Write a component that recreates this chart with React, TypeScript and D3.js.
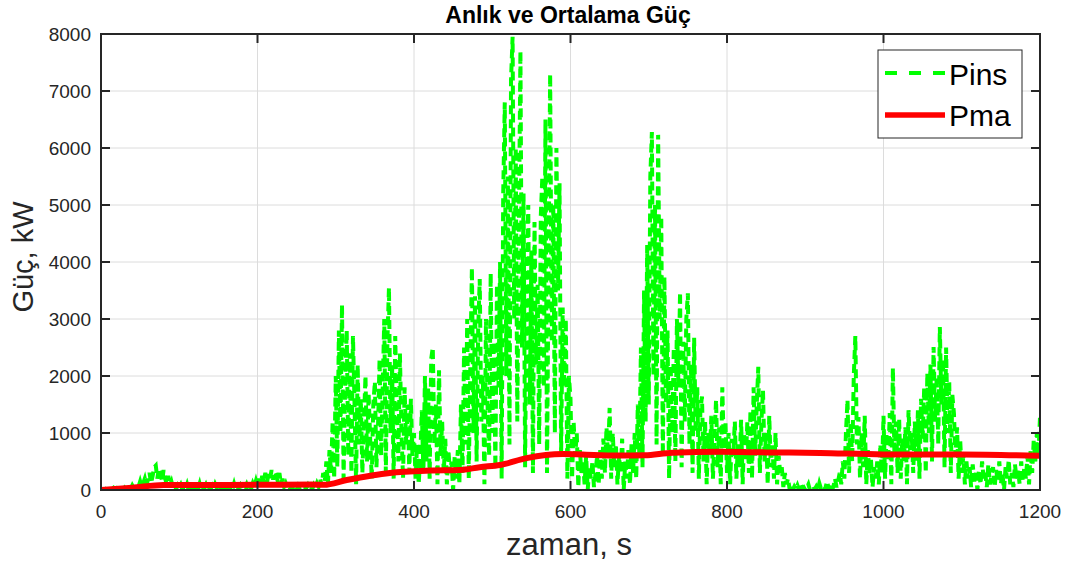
import React from "react";
import * as d3 from "d3";

// Instantaneous power samples (kW), one every 2 s, per 100 s block
const STEP = 2;
const pins000 = [0, 10, 0, 20, 5, 30, 0, 15, 40, 10, 30, 0, 20, 50, 10, 40, 0, 30, 60, 20,
  80, 30, 100, 40, 60, 150, 50, 120, 200, 80, 180, 300, 120, 250, 400, 430, 200, 380, 300, 150, 350, 200, 100, 250, 80, 150, 40, 100, 20, 80];
const pins100 = [30, 90, 10, 60, 20, 100, 0, 70, 30, 50, 10, 80, 20, 110, 0, 60, 30, 90, 10, 50,
  20, 70, 0, 100, 40, 80, 10, 60, 20, 90, 30, 50, 0, 70, 20, 110, 10, 60, 30, 80, 10, 50, 40, 100, 20, 70, 30, 120, 60, 160];
const pins200 = [60, 200, 100, 250, 150, 300, 120, 280, 200, 350, 180, 320, 250, 150, 300, 100, 200, 60, 120, 40,
  80, 20, 60, 10, 50, 0, 70, 20, 40, 10, 60, 30, 80, 0, 50, 20, 90, 40, 120, 60, 200, 80, 300, 150, 500, 100, 700, 300, 1200, 200];
const pins300 = [2000, 400, 2800, 1000, 3250, 200, 1800, 2800, 600, 2400, 300, 2700, 1500, 100, 2200, 800, 1600, 300, 1200, 2000,
  500, 1700, 900, 200, 1500, 1900, 400, 1100, 2300, 600, 1800, 3000, 300, 2600, 3550, 1000, 2200, 200, 2700, 1400,
  500, 2400, 1000, 200, 1800, 800, 1500, 300, 1600, 600];
const pins400 = [1000, 200, 800, 100, 600, 1400, 300, 2000, 500, 1800, 200, 2300, 2500, 800, 1500, 100, 2100, 600, 1200, 300,
  900, 100, 700, 300, 500, 0, 600, 200, 700, 100, 1500, 300, 2500, 800, 3000, 200, 2200, 3900, 1000, 3400,
  500, 2800, 3700, 1200, 2000, 100, 3000, 1500, 600, 3800];
const pins500 = [1000, 2600, 400, 3600, 1800, 4000, 200, 5200, 6800, 2000, 5500, 800, 7200, 7950, 3000, 6000, 1200, 4500, 7700, 2500,
  5200, 400, 3800, 5000, 1500, 4200, 300, 4700, 2200, 3600, 800, 4800, 5500, 1800, 6500, 300, 4000, 7300, 2600, 5000,
  1000, 6000, 3500, 5380, 600, 3200, 1800, 3000, 200, 2000];
const pins600 = [1600, 200, 1200, 600, 1000, 50, 700, 300, 500, 100, 600, 0, 400, 200, 500, 50, 300, 600, 100, 700,
  200, 900, 300, 1100, 600, 1440, 200, 1000, 400, 800, 100, 600, 300, 900, 0, 500, 200, 700, 100, 800,
  300, 1000, 200, 1500, 600, 2500, 400, 3500, 1200, 4300];
const pins700 = [1500, 5500, 6280, 2000, 5000, 800, 6230, 3000, 4800, 600, 3740, 1500, 2800, 200, 2200, 1000, 2500, 500, 3000, 1800,
  3470, 400, 2600, 1200, 3000, 3450, 800, 2200, 300, 2670, 1000, 1800, 200, 1400, 1640, 500, 1200, 100, 1000, 600,
  1300, 200, 900, 1580, 400, 1100, 100, 1800, 700, 1200];
const pins800 = [300, 1000, 100, 900, 600, 1200, 200, 800, 400, 1230, 100, 1000, 500, 1200, 300, 1400, 200, 1800, 600, 1500,
  2160, 300, 1200, 1750, 500, 1000, 100, 1300, 400, 800, 200, 1000, 100, 600, 300, 400, 50, 300, 100, 200,
  20, 100, 0, 60, 10, 80, 0, 120, 30, 50];
const pins900 = [0, 40, 100, 0, 30, 80, 10, 60, 0, 120, 30, 80, 0, 50, 150, 20, 100, 0, 60, 200,
  50, 150, 300, 100, 500, 200, 1000, 1580, 300, 1200, 500, 2000, 2700, 800, 1280, 200, 1000, 400, 1300, 100,
  700, 300, 530, 50, 400, 200, 500, 100, 800, 300];
const pins1000 = [1300, 200, 1000, 500, 1350, 100, 2140, 600, 1200, 300, 1250, 200, 900, 500, 1100, 100, 1400, 700, 1000, 300,
  1200, 500, 1400, 200, 1600, 900, 1800, 300, 2050, 1000, 2200, 500, 2510, 1200, 2000, 800, 2860, 1500, 2300, 400,
  2500, 1000, 1900, 300, 1670, 1350, 600, 1100, 200, 880];
const pins1100 = [300, 600, 100, 500, 200, 400, 50, 450, 150, 300, 0, 350, 100, 500, 200, 300, 50, 450, 100, 250,
  400, 50, 350, 150, 500, 100, 300, 0, 400, 200, 530, 100, 300, 50, 450, 200, 350, 100, 500, 150,
  400, 200, 600, 100, 700, 300, 880, 500, 1000, 600, 1280];

// Moving-average power (kW)
const pmaTime = [0, 40, 80, 150, 200, 270, 285, 314, 369, 420, 459, 484, 510, 544, 590, 630, 663, 695, 730, 791, 850, 919, 1000, 1100, 1200];
const pmaValue = [0, 40, 88, 88, 92, 95, 92, 175, 300, 340, 350, 400, 440, 560, 630, 615, 605, 610, 655, 670, 660, 650, 625, 625, 600];

const xTicks = [0, 200, 400, 600, 800, 1000, 1200];
const yTicks = [0, 1000, 2000, 3000, 4000, 5000, 6000, 7000, 8000];

const TITLE = "Anlık ve Ortalama Güç";
const XLABEL = "zaman, s";
const YLABEL = "Güç, kW";
const SERIES_NAMES = ["Pins", "Pma"];

const W = 1067;
const H = 565;
const L = 101, R = 1040, T = 34, B = 490;
const FONT = "'Liberation Sans', Arial, Helvetica, sans-serif";
const AX = "#262626";

export default function App() {
  const pinsValues = [
    ...pins000, ...pins100, ...pins200, ...pins300, ...pins400, ...pins500,
    ...pins600, ...pins700, ...pins800, ...pins900, ...pins1000, ...pins1100,
  ];
  const pins: [number, number][] = pinsValues.map((v, i) => [i * STEP, v]);
  const pma: [number, number][] = pmaTime.map((t, i) => [t, pmaValue[i]]);

  const x = d3.scaleLinear().domain([0, 1200]).range([L, R]);
  const y = d3.scaleLinear().domain([0, 8000]).range([B, T]);
  const line = d3.line<[number, number]>().x((d) => x(d[0])).y((d) => y(d[1]));
  const pmaLine = d3.line<[number, number]>().x((d) => x(d[0])).y((d) => y(d[1])).curve(d3.curveMonotoneX);

  const tickLen = 9;

  return (
    <svg width={W} height={H} style={{ position: "absolute", left: 0, top: 0, background: "#fff" }} fontFamily={FONT}>
      <rect x={0} y={0} width={W} height={H} fill="#fff" />
      {xTicks.map((t) => (
        <line key={"gx" + t} x1={x(t)} x2={x(t)} y1={T} y2={B} stroke="#dcdcdc" strokeWidth={1} />
      ))}
      {yTicks.map((t) => (
        <line key={"gy" + t} x1={L} x2={R} y1={y(t)} y2={y(t)} stroke="#dcdcdc" strokeWidth={1} />
      ))}
      <defs>
        <clipPath id="plotclip">
          <rect x={L} y={T - 3} width={R - L} height={B - T + 3} />
        </clipPath>
      </defs>
      <g clipPath="url(#plotclip)">
        <path d={line(pins) || ""} fill="none" stroke="#00ff00" strokeWidth={4} strokeDasharray="9,5" strokeLinejoin="miter" />
        <path d={pmaLine(pma) || ""} fill="none" stroke="#ff0000" strokeWidth={6} strokeLinejoin="round" />
      </g>
      <rect x={L} y={T} width={R - L} height={B - T} fill="none" stroke={AX} strokeWidth={2} />
      {xTicks.map((t) => (
        <g key={"tx" + t}>
          <line x1={x(t)} x2={x(t)} y1={B} y2={B - tickLen} stroke={AX} strokeWidth={2} />
          <line x1={x(t)} x2={x(t)} y1={T} y2={T + tickLen} stroke={AX} strokeWidth={2} />
          <text x={x(t)} y={518} textAnchor="middle" fontSize={19} fill={AX}>{t}</text>
        </g>
      ))}
      {yTicks.map((t) => (
        <g key={"ty" + t}>
          <line x1={L} x2={L + tickLen} y1={y(t)} y2={y(t)} stroke={AX} strokeWidth={2} />
          <line x1={R} x2={R - tickLen} y1={y(t)} y2={y(t)} stroke={AX} strokeWidth={2} />
          <text x={91} y={y(t) + 7} textAnchor="end" fontSize={19} fill={AX}>{t}</text>
        </g>
      ))}
      <text x={568} y={23} textAnchor="middle" fontSize={23} fontWeight="bold" fill="#000">{TITLE}</text>
      <text x={569} y={555} textAnchor="middle" fontSize={31} fill={AX}>{XLABEL}</text>
      <text transform={`translate(33,257) rotate(-90)`} textAnchor="middle" fontSize={29} fill={AX}>{YLABEL}</text>
      <rect x={878} y={50} width={144} height={88} fill="#fff" stroke={AX} strokeWidth={1} />
      <line x1={885} x2={945} y1={73} y2={73} stroke="#00ff00" strokeWidth={4} strokeDasharray="12,12" />
      <text x={949} y={85} fontSize={30} fill="#000">{SERIES_NAMES[0]}</text>
      <line x1={885} x2={945} y1={115} y2={115} stroke="#ff0000" strokeWidth={5.5} />
      <text x={949} y={126} fontSize={30} fill="#000">{SERIES_NAMES[1]}</text>
    </svg>
  );
}
